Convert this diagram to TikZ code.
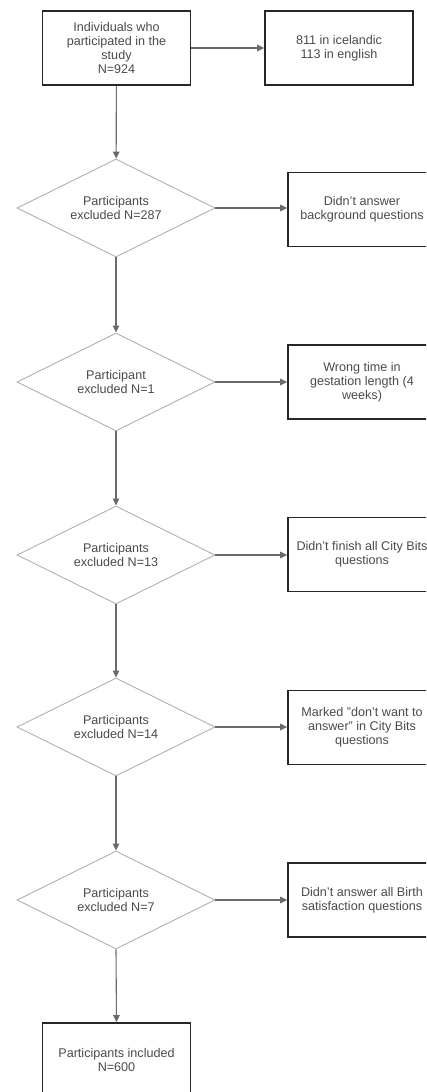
\documentclass[tikz,border=0pt]{standalone}
\usepackage{fontspec}
\setmainfont{Liberation Sans}
\usetikzlibrary{positioning}
\usetikzlibrary{shapes.geometric}
\usetikzlibrary{arrows.meta}

\definecolor{txtgray}{HTML}{4A4A4A}
\definecolor{boxdark}{HTML}{262626}
\definecolor{diagray}{HTML}{B0B0B0}
\definecolor{arrgray}{HTML}{6A6A6A}

\tikzset{
	flowfont/.style={font=\fontsize{12.6}{14.2}\selectfont, text=txtgray},
	stagebox/.style={draw=boxdark, line width=1.6pt, minimum width=148pt, minimum height=74pt, align=center, inner sep=2pt, flowfont},
	exclnode/.style={diamond, aspect=2, draw=diagray, line width=0.9pt, minimum width=198pt, minimum height=98pt, align=center, inner sep=0pt, flowfont},
	flowarrow/.style={draw=arrgray, line width=1.1pt, -{Triangle[length=7pt,width=6.5pt]}}
}

\begin{document}
\begin{tikzpicture}[x=1pt,y=-1pt]
		\useasboundingbox (0,0) rectangle (426,1092);
		\clip (0,0) rectangle (426,1092);
		% main column
		\node[stagebox] (start) at (116.5,48) {Individuals who\\participated in the\\study\\N=924};
		\node[exclnode] (ex1) at (116,208) {Participants\\excluded N=287};
		\node[exclnode] (ex2) at (116,382) {Participant\\excluded N=1};
		\node[exclnode] (ex3) at (116,555) {Participants\\excluded N=13};
		\node[exclnode] (ex4) at (116,727) {Participants\\excluded N=14};
		\node[exclnode] (ex5) at (116,900) {Participants\\excluded N=7};
		\node[stagebox] (final) at (116.5,1060) {Participants included\\N=600};
		% side column
		\node[stagebox] (lang) at (339,48) {811 in icelandic\\113 in english};
		\node[stagebox] (why1) at (362,209.5) {Didn't answer\\background questions};
		\node[stagebox] (why2) at (362,382) {Wrong time in\\gestation length (4\\weeks)};
		\node[stagebox] (why3) at (362,554.5) {Didn't finish all City Bits\\questions};
		\node[stagebox] (why4) at (362,727.5) {Marked "don't want to\\answer" in City Bits\\questions};
		\node[stagebox] (why5) at (362,900) {Didn't answer all Birth\\satisfaction questions};
		% arrows down
		\draw[flowarrow] (start) -- (ex1);
		\foreach \a/\b in {ex1/ex2,ex2/ex3,ex3/ex4,ex4/ex5,ex5/final} {
			\draw[flowarrow] (\a.south) -- (\b.north);
		}
		% arrows to the right
		\draw[flowarrow] (start) -- (lang);
		\foreach \i in {1,...,5} {
			\draw[flowarrow] (ex\i.east) -- (why\i.west |- ex\i.east);
		}
	\end{tikzpicture}
\end{document}
